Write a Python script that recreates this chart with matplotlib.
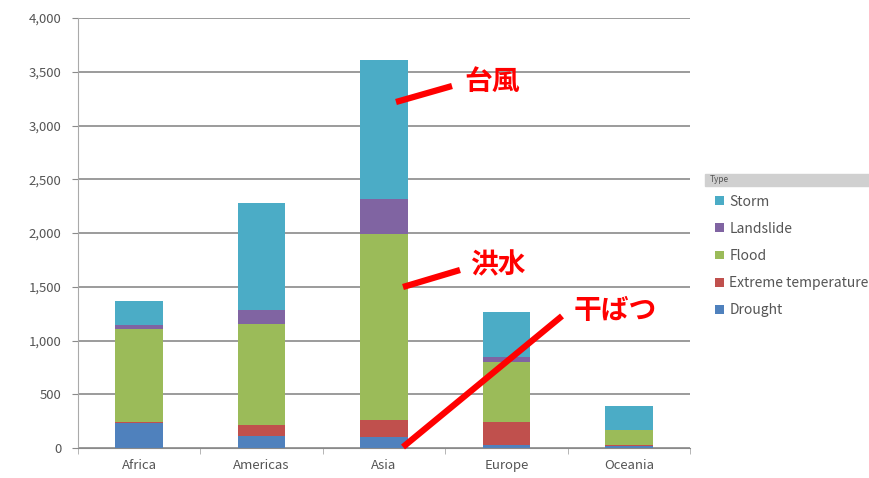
import numpy as np
import matplotlib.pyplot as plt
from matplotlib.lines import Line2D
from matplotlib.patches import Rectangle

plt.rcParams["font.family"] = ["Noto Sans CJK JP", "DejaVu Sans"]

# Disaster counts per region, stacked bottom to top
regions = ["Africa", "Americas", "Asia", "Europe", "Oceania"]
drought = [235, 110, 100, 25, 20]
extreme_temp = [5, 100, 160, 220, 5]
flood = [870, 940, 1730, 555, 140]
landslide = [35, 130, 325, 45, 5]
storm = [225, 1000, 1295, 420, 220]

series = [
    ("Drought", drought, "#4F81BD"),
    ("Extreme temperature", extreme_temp, "#C0504D"),
    ("Flood", flood, "#9BBB59"),
    ("Landslide", landslide, "#8064A2"),
    ("Storm", storm, "#4BACC6"),
]

W, H = 870, 478
fig = plt.figure(figsize=(W / 100, H / 100), dpi=100)
ax = fig.add_axes([78 / W, 30 / H, 612 / W, 430 / H])

x = np.arange(len(regions))
bottom = np.zeros(len(regions))
handles = []
for name, vals, color in series:
    b = ax.bar(x, vals, width=0.39, bottom=bottom, color=color, label=name)
    bottom += np.array(vals)
    handles.append(b)

ax.set_xlim(-0.5, len(regions) - 0.5)
ax.set_ylim(0, 4000)
ax.set_yticks(range(0, 4001, 500))
ax.set_yticklabels([f"{v:,}" for v in range(0, 4001, 500)])
ax.yaxis.grid(True, color="#8a8a8a", linewidth=1.2)
ax.set_axisbelow(True)

ax.set_xticks(x)
ax.set_xticklabels(regions)
ax.set_xticks(np.arange(-0.5, len(regions), 1), minor=True)
ax.tick_params(axis="x", which="major", length=0, pad=8, labelsize=9.5, labelcolor="#555555")
ax.tick_params(axis="x", which="minor", length=4, color="#aaaaaa")
ax.tick_params(axis="y", length=4, color="#8a8a8a", labelsize=9.5, labelcolor="#555555", pad=8)

for s in ["top", "right"]:
    ax.spines[s].set_visible(False)
ax.spines["left"].set_color("#aaaaaa")
ax.spines["bottom"].set_color("#8a8a8a")

# legend, top to bottom in reverse stack order
leg = fig.legend(handles[::-1], [s[0] for s in series][::-1],
                 loc="upper left", bbox_to_anchor=(703 / W, 1 - 182 / H),
                 frameon=False, fontsize=10, labelspacing=0.95,
                 handlelength=0.6, handleheight=0.6, handletextpad=0.4)
for t in leg.get_texts():
    t.set_color("#555555")

# legend header bar
fig.add_artist(Rectangle((705 / W, 1 - 186 / H), 165 / W, 12 / H,
                         transform=fig.transFigure, color="#d0d0d0"))
fig.text(710 / W, 1 - 180 / H, "Type", fontsize=6, color="#555555", va="center")


def px_line(x0, y0, x1, y1):
    fig.add_artist(Line2D([x0 / W, x1 / W], [1 - y0 / H, 1 - y1 / H],
                          transform=fig.transFigure, color="#ff0000",
                          linewidth=4.5, solid_capstyle="butt"))


# red callouts
px_line(396, 102, 452, 86)
fig.text(464 / W, 1 - 82 / H, "台風", color="#ff0000", fontsize=20,
         fontweight="bold", va="center")
px_line(403, 287, 460, 270)
fig.text(470 / W, 1 - 265 / H, "洪水", color="#ff0000", fontsize=20,
         fontweight="bold", va="center")
px_line(403, 447, 562, 316)
fig.text(574 / W, 1 - 311 / H, "干ばつ", color="#ff0000", fontsize=20,
         fontweight="bold", va="center")

fig.savefig("out.png", dpi=100)
